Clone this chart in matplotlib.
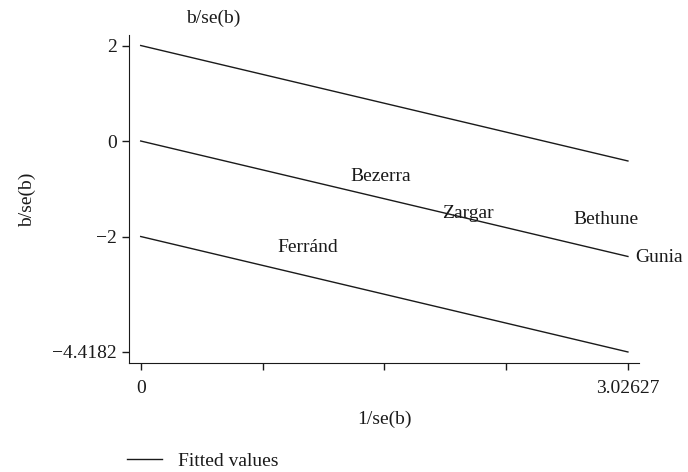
import matplotlib
matplotlib.use("Agg")
from matplotlib import pyplot as plt

# Galbraith (radial) plot: fitted line with +/-2 bands
x_fit = [0, 3.02627]
fit_mid = [0, -2.4182]
fit_upper = [2, -0.4182]
fit_lower = [-2, -4.4182]

# study labels (1/se(b), b/se(b))
studies = ["Bezerra", "Zargar", "Bethune", "Gunia", "Ferránd"]
study_x = [1.257, 1.828, 2.642, 3.026, 0.803]
study_y = [-0.733, -1.508, -1.654, -2.43, -2.22]

x_ticks = [0, 0.75657, 1.51314, 2.2697, 3.02627]
x_ticklabels = ["0", "", "", "", "3.02627"]
y_ticks = [2, 0, -2, -4.4182]
y_ticklabels = ["2", "0", "\u22122", "\u22124.4182"]

plt.rcParams["font.family"] = ["Liberation Serif", "DejaVu Serif"]
plt.rcParams["font.size"] = 14
ink = "#1a1a1a"

fig = plt.figure(figsize=(6.88, 4.72), dpi=100)
ax = fig.add_axes([129 / 688, 109 / 472, 510 / 688, 328 / 472])

ax.plot(x_fit, fit_upper, color=ink, lw=1.0, label="Fitted values")
ax.plot(x_fit, fit_mid, color=ink, lw=1.0)
ax.plot(x_fit, fit_lower, color=ink, lw=1.0)

for name, sx, sy in zip(studies, study_x, study_y):
    ax.annotate(name, (sx, sy), xytext=(5, 0), textcoords="offset points",
                ha="left", va="center", color=ink)

ax.set_xlim(-0.0727, 3.095)
ax.set_ylim(-4.649, 2.22)
ax.set_xticks(x_ticks)
ax.set_xticklabels(x_ticklabels)
ax.set_yticks(y_ticks)
ax.set_yticklabels(y_ticklabels)
ax.tick_params(length=5, width=1.0, color=ink, labelcolor=ink)
ax.tick_params(axis="x", pad=7)
ax.tick_params(axis="y", pad=4)

ax.spines["top"].set_visible(False)
ax.spines["right"].set_visible(False)
ax.spines["left"].set_color(ink)
ax.spines["bottom"].set_color(ink)

fig.text(213 / 688, 1 - 18 / 472, "b/se(b)", ha="center", va="center", color=ink)
fig.text(27 / 688, 1 - 200 / 472, "b/se(b)", ha="center", va="center",
         rotation=90, color=ink)
fig.text(384 / 688, 1 - 419 / 472, "1/se(b)", ha="center", va="center", color=ink)

fig.legend(loc="center left", bbox_to_anchor=(127 / 688, 11 / 472),
           frameon=False, handlelength=1.8, handletextpad=0.8,
           borderpad=0, borderaxespad=0, labelcolor=ink)

plt.savefig("out.png")
